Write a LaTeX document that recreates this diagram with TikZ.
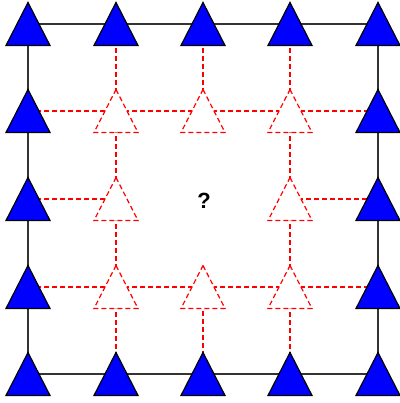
\documentclass[tikz,border=0pt]{standalone}
\usepackage{fontspec}
\setsansfont{Liberation Sans}
\usetikzlibrary{backgrounds}

\begin{document}
\begin{tikzpicture}[
  x=1pt, y=-1pt,
  font=\sffamily,
  tri/.style={minimum width=46pt, minimum height=45pt, inner sep=0pt,
    path picture={\filldraw[#1, line width=1.2pt]
      ([yshift=-1pt]path picture bounding box.north)
      -- ([shift={(-1pt,1pt)}]path picture bounding box.south east)
      -- ([shift={(1pt,1pt)}]path picture bounding box.south west) -- cycle;}},
  site/.style={tri={draw=black, fill=blue}},
  hole/.style={tri={draw=red, fill=white, dash pattern=on 5pt off 3pt}},
  ring/.style={draw=black!80, line width=1.5pt},
  bond/.style={draw=red, line width=1.3pt, dash pattern=on 5pt off 3pt},
]
  \useasboundingbox (0,0) rectangle (399,403);

  % Outer ring of known sites
  \node[site] (b11) at (28,24) {};
  \node[site] (b12) at (116,24) {};
  \node[site] (b13) at (203,24) {};
  \node[site] (b14) at (290,24) {};
  \node[site] (b15) at (378,24) {};
  \node[site] (b21) at (28,111) {};
  \node[site] (b25) at (378,111) {};
  \node[site] (b31) at (28,199) {};
  \node[site] (b35) at (378,199) {};
  \node[site] (b41) at (28,287) {};
  \node[site] (b45) at (378,287) {};
  \node[site] (b51) at (28,374) {};
  \node[site] (b52) at (116,374) {};
  \node[site] (b53) at (203,374) {};
  \node[site] (b54) at (290,374) {};
  \node[site] (b55) at (378,374) {};

  % Inner ring of unknown sites
  \node[hole] (r22) at (116,111) {};
  \node[hole] (r23) at (203,111) {};
  \node[hole] (r24) at (290,111) {};
  \node[hole] (r32) at (116,199) {};
  \node[hole] (r34) at (290,199) {};
  \node[hole] (r42) at (116,287) {};
  \node[hole] (r43) at (203,287) {};
  \node[hole] (r44) at (290,287) {};

  \node[font=\sffamily\bfseries\fontsize{22}{22}\selectfont] (q) at (204,201) {?};

  \begin{scope}[on background layer]
    \draw[ring] (b11.center) -- (b15.center) -- (b55.center) -- (b51.center) -- cycle;
    % rows
    \draw[bond] (b21.center) -- (r22.center) -- (r23.center) -- (r24.center) -- (b25.center);
    \draw[bond] (b31.center) -- (r32.center);
    \draw[bond] (r34.center) -- (b35.center);
    \draw[bond] (b41.center) -- (r42.center) -- (r43.center) -- (r44.center) -- (b45.center);
    % columns
    \draw[bond] (b12.center) -- (r22.center) -- (r32.center) -- (r42.center) -- (b52.center);
    \draw[bond] (b13.center) -- (r23.center);
    \draw[bond] (r43.center) -- (b53.center);
    \draw[bond] (b14.center) -- (r24.center) -- (r34.center) -- (r44.center) -- (b54.center);
  \end{scope}
\end{tikzpicture}
\end{document}
